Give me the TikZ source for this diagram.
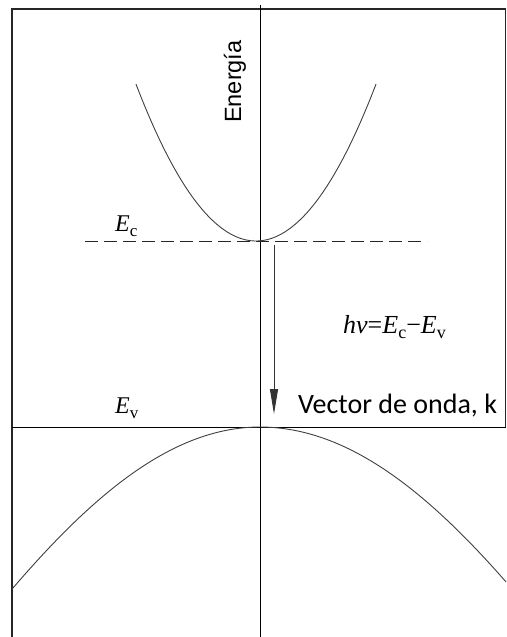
\documentclass[tikz,border=0pt]{standalone}
\usepackage{fontspec}
\setmainfont{Liberation Serif}
\newfontfamily\arialf{Liberation Sans}
\newfontfamily\calibrif{Carlito}
\usetikzlibrary{arrows.meta}
\newcommand{\sbsc}[1]{\raisebox{-0.22em}{\fontsize{17}{17}\selectfont #1}}
\begin{document}
\begin{tikzpicture}[x=1pt,y=-1pt,
  frameline/.style={line width=1.1pt,black!85},
  axisline/.style={line width=0.9pt,black},
  band/.style={line width=0.9pt,black!75},
  dashline/.style={line width=0.9pt,black!85,dash pattern=on 13pt off 6pt},
  trans/.style={line width=0.9pt,black!80,-{Triangle[length=25pt,width=8pt]}},
  mathlbl/.style={inner sep=0pt,font=\fontsize{24}{24}\selectfont},
]
\useasboundingbox (0,0) rectangle (506,637);
\fill[white] (0,0) rectangle (506,637);
% frame
\coordinate (ftl) at (12,9);
\coordinate (ftr) at (505.5,9);
\coordinate (fbl) at (12,637);
\coordinate (fbr) at (505.5,427);
\draw[frameline] (fbl) -- (ftl) -- (ftr) -- (fbr);
% axes
\coordinate (vtop) at (260,5);
\coordinate (vbot) at (260,637);
\coordinate (hl) at (12,427);
\coordinate (hr) at (506,427);
\draw[axisline] (vtop) -- (vbot);
\draw[axisline] (hl) -- (hr);
% Ec dashed level
\coordinate (dl) at (85,241);
\coordinate (dr) at (427,241);
\draw[dashline] (dl) -- (dr);
% conduction band
\draw[band] plot[domain=136:376,samples=80,smooth] (\x,{241-0.0109*(\x-256)^2});
% valence band
\draw[band] plot[domain=12:260,samples=80,smooth] (\x,{427+284*(1-cos(deg((\x-260)/220)))});
\draw[band] plot[domain=260:506,samples=80,smooth] (\x,{427+310*(1-cos(deg((\x-260)/235)))});
% transition arrow
\coordinate (at) at (274,245);
\coordinate (ab) at (274,414);
\draw[trans] (at) -- (ab);
% labels
\node[inner sep=0pt,anchor=base west,rotate=90,font=\arialf\fontsize{23.5}{24}\selectfont] (energia) at (241,123) {Energía};
\node[inner sep=0pt,anchor=base west,font=\calibrif\fontsize{28}{28}\selectfont] (vector) at (298,413) {Vector de onda, k};
\node[mathlbl,anchor=base west] (ec) at (115,231) {\textit{E}\sbsc{c}};
\node[mathlbl,anchor=base west] (ev) at (115,413) {\textit{E}\sbsc{v}};
\node[inner sep=0pt,anchor=base west,font=\fontsize{26}{26}\selectfont] (hnu) at (343,333) {\textit{hν}=\textit{E}\raisebox{-0.22em}{\fontsize{18}{18}\selectfont c}−\textit{E}\raisebox{-0.22em}{\fontsize{18}{18}\selectfont v}};
\end{tikzpicture}
\end{document}
